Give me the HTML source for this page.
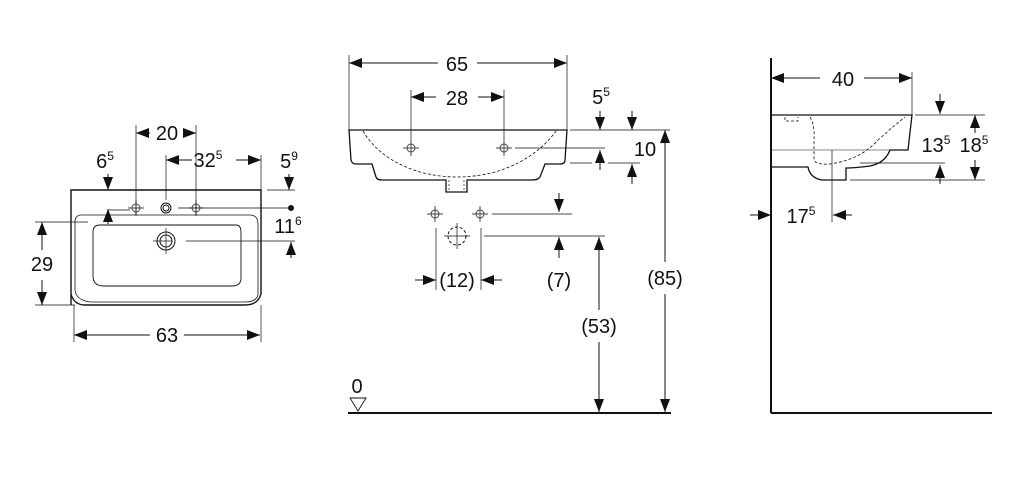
<!DOCTYPE html>
<html><head><style>html,body{margin:0;padding:0;background:#fff}svg{display:block}
text{font-family:"Liberation Sans",Arial,sans-serif;font-size:20px;fill:#111;text-anchor:middle}
.s{font-size:12px}</style></head><body>
<svg width="1024" height="482" viewBox="0 0 1024 482" xmlns="http://www.w3.org/2000/svg">
<defs>
<marker id="a" viewBox="0 0 13 10" refX="13" refY="5" markerWidth="13" markerHeight="10" markerUnits="userSpaceOnUse" orient="auto"><path d="M0,0L13,5L0,10z" fill="#111"/></marker>
<g id="cr"><circle r="4" fill="none" stroke="#444" stroke-width="1"/><path d="M-8,0H8M0,-8V8" stroke="#444" stroke-width="1"/></g>
</defs>
<g stroke="#111" fill="none" stroke-width="1">
<!-- LEFT VIEW -->
<path d="M71,305V190H261V294Q258,305 245,305H85Q74,305 71,294" stroke-width="1.4"/>
<path d="M75,222Q75,215 82,215H250Q258,215 258,224V295Q256,302 245,302H90Q76,300 75,290Z" stroke-width="0.8"/>
<path d="M93,232Q93,225 100,225H236Q241,225 241,232V278Q241,286 232,286H104Q93,286 93,276Z" stroke-width="0.9"/>
<use href="#cr" x="136" y="208"/><use href="#cr" x="196" y="208"/>
<circle cx="166" cy="208" r="5"/><circle cx="166" cy="208" r="3"/>
<circle cx="166" cy="241" r="9"/><circle cx="166" cy="241" r="6"/><path d="M166,228V254M153,241H172" stroke-width="0.7"/>
<path d="M136,125V215M196,125V215M166,155V200M261,155V190M74,305V342M261,305V342" stroke-width="0.7"/>
<path d="M150,133H136" marker-end="url(#a)"/><path d="M183,133H196" marker-end="url(#a)"/>
<path d="M192,160H166" marker-end="url(#a)"/><path d="M236,160H261" marker-end="url(#a)"/>
<path d="M108,174V190" marker-end="url(#a)"/><path d="M108,224V209" marker-end="url(#a)"/>
<path d="M108,210H130M178,208H288M267,190H295M186,241H295M35,222H88M35,305H75" stroke-width="0.7"/>
<circle cx="291" cy="208" r="2.5" fill="#111"/>
<path d="M289,174V190" marker-end="url(#a)"/><path d="M291,258V242" marker-end="url(#a)"/>
<path d="M42,250V222" marker-end="url(#a)"/><path d="M42,280V305" marker-end="url(#a)"/>
<path d="M150,335H74" marker-end="url(#a)"/><path d="M184,335H260" marker-end="url(#a)"/>
<!-- MIDDLE VIEW -->
<path d="M349,130H567L565,160Q565,164 560,164H545L540,177Q538,180 532,180H467V192H446V180H382Q377,180 376,177L372,164H356Q352,164 351,160Z" stroke-width="1.3"/>
<path d="M363,131Q380,160 420,172Q457,182 495,172Q535,160 556,131" stroke-dasharray="3,2" stroke-width="0.8"/>
<path d="M449,180V190M464,180V190" stroke-dasharray="2,2" stroke-width="0.7"/>
<path d="M349,55V130M567,55V130M411,90V150M504,90V150" stroke-width="0.7"/>
<use href="#cr" x="411" y="148"/><use href="#cr" x="504" y="148"/>
<path d="M438,63H349" marker-end="url(#a)"/><path d="M477,63H567" marker-end="url(#a)"/>
<path d="M436,97H411" marker-end="url(#a)"/><path d="M478,97H504" marker-end="url(#a)"/>
<path d="M570,130H670M515,148H605M570,163H592M608,163H640M492,214H572M484,236H605" stroke-width="0.7"/>
<path d="M600,111V130" marker-end="url(#a)"/><path d="M632,111V130" marker-end="url(#a)"/>
<path d="M600,170V150" marker-end="url(#a)"/><path d="M632,184V164" marker-end="url(#a)"/>
<path d="M665,262V130" marker-end="url(#a)"/><path d="M665,294V412" marker-end="url(#a)"/>
<use href="#cr" x="435" y="214"/><use href="#cr" x="480" y="214"/>
<circle cx="457" cy="236" r="9" stroke-dasharray="3,2"/><path d="M457,223V249M444,236H470" stroke-width="0.7"/>
<path d="M436,228V290M481,228V290" stroke-width="0.7"/>
<path d="M559,193V212" marker-end="url(#a)"/><path d="M559,258V237" marker-end="url(#a)"/>
<path d="M599,310V237" marker-end="url(#a)"/><path d="M599,342V412" marker-end="url(#a)"/>
<path d="M415,280H436" marker-end="url(#a)"/><path d="M502,280H481" marker-end="url(#a)"/>
<path d="M348,413H671" stroke-width="2"/>
<path d="M350,398H366L358,411Z" stroke-width="0.9"/>
<!-- RIGHT VIEW -->
<path d="M771,58V413M771,413H992" stroke-width="2"/>
<path d="M771,115H912L908,150H890Q885,163 870,166Q855,168 846,168V180H822Q810,178 808,167H771" stroke-width="1.3"/>
<path d="M771,150H890" stroke-width="0.6"/>
<path d="M785,117V121H798V117M810,117Q815,125 814,140V160Q816,165 830,164Q860,160 878,140Q895,125 905,117" stroke-dasharray="3,2" stroke-width="0.8"/>
<path d="M912,72V115M832,150V222" stroke-width="0.7"/>
<path d="M820,78H771" marker-end="url(#a)"/><path d="M864,78H912" marker-end="url(#a)"/>
<path d="M915,115H985M860,163H945M850,180H985" stroke-width="0.7"/>
<path d="M940,94V114" marker-end="url(#a)"/><path d="M940,184V165" marker-end="url(#a)"/>
<path d="M975,133V115" marker-end="url(#a)"/><path d="M975,160V180" marker-end="url(#a)"/>
<path d="M750,215H771" marker-end="url(#a)"/><path d="M852,215H833" marker-end="url(#a)"/>
</g>
<text x="167" y="140">20</text>
<text x="208" y="167">32<tspan class="s" dy="-8">5</tspan></text>
<text x="105" y="168">6<tspan class="s" dy="-8">5</tspan></text>
<text x="289" y="168">5<tspan class="s" dy="-8">9</tspan></text>
<text x="288" y="233">11<tspan class="s" dy="-8">6</tspan></text>
<text x="42" y="271">29</text>
<text x="167" y="342">63</text>
<text x="457" y="71">65</text>
<text x="457" y="105">28</text>
<text x="601" y="104">5<tspan class="s" dy="-8">5</tspan></text>
<text x="645" y="156">10</text>
<text x="457" y="287">(12)</text>
<text x="559" y="287">(7)</text>
<text x="665" y="285">(85)</text>
<text x="599" y="333">(53)</text>
<text x="357" y="393">0</text>
<text x="843" y="86">40</text>
<text x="936" y="152">13<tspan class="s" dy="-8">5</tspan></text>
<text x="974" y="152">18<tspan class="s" dy="-8">5</tspan></text>
<text x="801" y="223">17<tspan class="s" dy="-8">5</tspan></text>
</svg>
</body></html>
